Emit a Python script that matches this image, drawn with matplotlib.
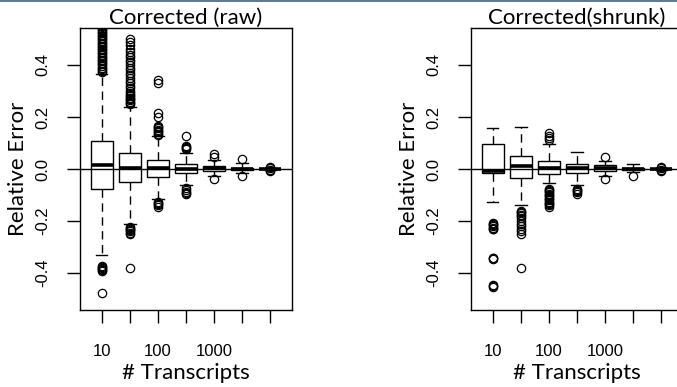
import matplotlib
matplotlib.use("Agg")
import matplotlib.pyplot as plt
from matplotlib.patches import Rectangle

# x categories (7 transcript-count bins), only some are labelled
positions = [1, 2, 3, 4, 5, 6, 7]
xtick_labels = ["10", "", "100", "", "1000", "", ""]
ytick_vals = [-0.4, -0.2, 0.0, 0.2, 0.4]
ytick_labels = ["-0.4", "-0.2", "0.0", "0.2", "0.4"]

# Corrected (raw): box statistics
raw_q1 = [-0.078, -0.051, -0.030, -0.017, -0.008, -0.005, -0.0015]
raw_med = [0.015, 0.003, 0.003, 0.000, 0.002, 0.000, 0.000]
raw_q3 = [0.109, 0.060, 0.035, 0.018, 0.013, 0.005, 0.0015]
raw_lo = [-0.330, -0.210, -0.115, -0.062, -0.025, -0.016, -0.004]
raw_hi = [0.365, 0.240, 0.125, 0.060, 0.033, 0.022, 0.004]
raw_fliers = [
    [0.372, 0.378, 0.384, 0.390, 0.396, 0.402, 0.408, 0.414, 0.420, 0.426,
     0.432, 0.438, 0.444, 0.450, 0.456, 0.462, 0.468, 0.474, 0.480, 0.486,
     0.492, 0.498, 0.504, 0.510, 0.516, 0.522, 0.528, 0.534, 0.540, 0.550,
     -0.372, -0.376, -0.380, -0.384, -0.388, -0.392, -0.478],
    [0.249, 0.254, 0.259, 0.264, 0.269, 0.274, 0.280, 0.286, 0.292, 0.300,
     0.310, 0.320, 0.330, 0.340, 0.350, 0.360, 0.370, 0.380, 0.390, 0.400,
     0.410, 0.420, 0.430, 0.440, 0.450, 0.460, 0.475, 0.488, 0.500,
     -0.224, -0.228, -0.232, -0.236, -0.240, -0.245, -0.251, -0.380],
    [0.131, 0.136, 0.141, 0.146, 0.151, 0.156, 0.161, 0.167, 0.199, 0.214,
     0.330, 0.342, -0.128, -0.132, -0.136, -0.140, -0.145],
    [0.078, 0.082, 0.086, 0.090, 0.126, -0.073, -0.080, -0.087, -0.091, -0.096],
    [0.047, 0.058, -0.040],
    [0.038, -0.028],
    [0.007, 0.005, -0.005, -0.007],
]

# Corrected (shrunk)
shr_q1 = [-0.017, -0.033, -0.019, -0.014, -0.007, -0.005, -0.0015]
shr_med = [-0.008, 0.012, 0.005, 0.003, 0.004, 0.000, 0.000]
shr_q3 = [0.095, 0.050, 0.032, 0.019, 0.014, 0.005, 0.0015]
shr_lo = [-0.128, -0.140, -0.053, -0.062, -0.025, -0.012, -0.004]
shr_hi = [0.159, 0.163, 0.096, 0.067, 0.030, 0.019, 0.004]
shr_fliers = [
    [-0.209, -0.213, -0.217, -0.221, -0.225, -0.229, -0.232,
     -0.341, -0.344, -0.347, -0.446, -0.449, -0.452],
    [-0.160, -0.165, -0.170, -0.175, -0.180, -0.190, -0.200, -0.210,
     -0.220, -0.230, -0.240, -0.250, -0.380],
    [0.110, 0.120, 0.128, 0.138, -0.075, -0.080, -0.085, -0.090, -0.095,
     -0.100, -0.105, -0.110, -0.115, -0.120, -0.125, -0.130, -0.135,
     -0.140, -0.145],
    [-0.075, -0.080, -0.085, -0.090, -0.095],
    [0.045, -0.038],
    [-0.026],
    [0.007, 0.005, -0.005, -0.007],
]

TITLE_FONT = ["Lato", "DejaVu Sans"]
TICK_FONT = ["Liberation Sans", "DejaVu Sans"]


def make_stats(q1, med, q3, lo, hi, fliers):
    stats = []
    for i in range(len(q1)):
        stats.append(dict(q1=q1[i], med=med[i], q3=q3[i], whislo=lo[i],
                          whishi=hi[i], fliers=fliers[i]))
    return stats


def draw_panel(ax, stats, title):
    ax.bxp(stats, positions=positions, widths=0.8, capwidths=0.4,
           patch_artist=True, showfliers=True,
           boxprops=dict(facecolor="white", edgecolor="black", linewidth=1.0),
           medianprops=dict(color="black", linewidth=2.6, solid_capstyle="butt"),
           whiskerprops=dict(color="black", linewidth=1.0, linestyle=(0, (6, 4))),
           capprops=dict(color="black", linewidth=1.0),
           flierprops=dict(marker="o", markerfacecolor="none",
                           markeredgecolor="black", markersize=6,
                           markeredgewidth=0.9))
    ax.axhline(0, color="black", linewidth=1.0, zorder=5)
    ax.set_xlim(0.22, 7.78)
    ax.set_ylim(-0.542, 0.542)
    ax.set_xticks(positions)
    ax.set_xticklabels(xtick_labels, family=TICK_FONT, fontsize=12)
    ax.set_yticks(ytick_vals)
    ax.set_yticklabels(ytick_labels, family=TICK_FONT, fontsize=12,
                       rotation=90, va="center")
    ax.tick_params(axis="x", length=9.5, width=1.0, pad=15)
    ax.tick_params(axis="y", length=9.5, width=1.0, pad=12)
    for sp in ax.spines.values():
        sp.set_linewidth(1.0)
    ax.set_title(title, family=TITLE_FONT, fontsize=16, pad=1)
    ax.set_xlabel("# Transcripts", family=TITLE_FONT, fontsize=16, labelpad=3)
    ax.set_ylabel("Relative Error", family=TITLE_FONT, fontsize=16, labelpad=5)


fig = plt.figure(figsize=(6.77, 3.87), dpi=100)
ax1 = fig.add_axes([80 / 677, 1 - 310 / 387, 212 / 677, 282 / 387])
ax2 = fig.add_axes([471 / 677, 1 - 310 / 387, 212 / 677, 282 / 387])

draw_panel(ax1, make_stats(raw_q1, raw_med, raw_q3, raw_lo, raw_hi, raw_fliers),
           "Corrected (raw)")
draw_panel(ax2, make_stats(shr_q1, shr_med, shr_q3, shr_lo, shr_hi, shr_fliers),
           "Corrected(shrunk)")

# thin slate strip along the top edge of the slide
fig.add_artist(Rectangle((0, 1 - 2 / 387), 1, 2 / 387, transform=fig.transFigure,
                         facecolor="#5b7b97", edgecolor="none"))

fig.savefig("out.png", dpi=100)
